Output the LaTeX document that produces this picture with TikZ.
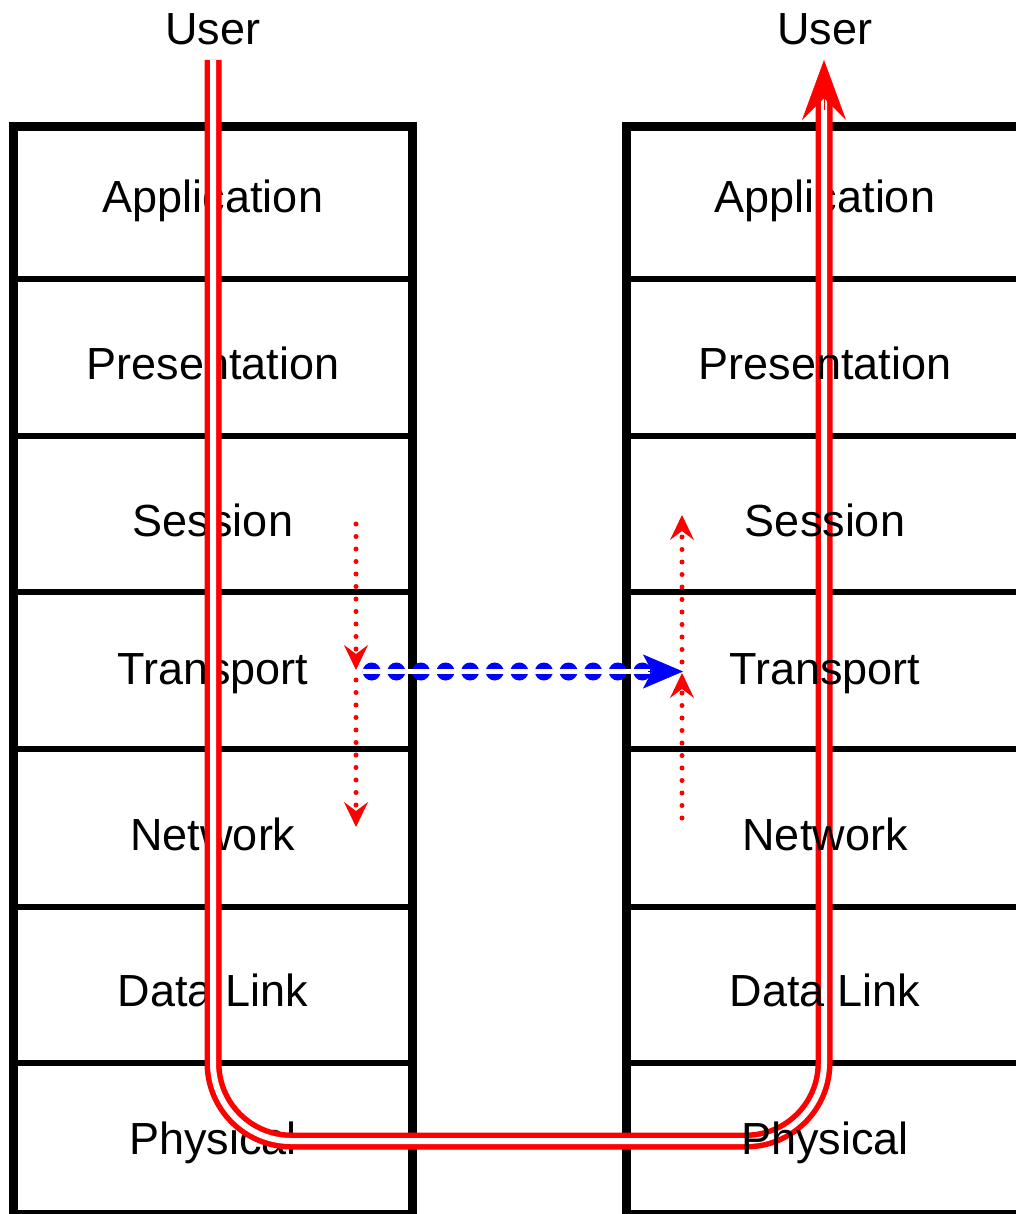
\documentclass[tikz,border=0pt]{standalone}
\usepackage{fontspec}
\setmainfont{Liberation Sans}
\usetikzlibrary{arrows.meta}
\definecolor{pathred}{RGB}{255,0,0}
\definecolor{pathblue}{RGB}{0,0,255}
\begin{document}
\begin{tikzpicture}[x=1pt,y=-1pt,
  layerlabel/.style={anchor=base, inner sep=0pt, font=\fontsize{45}{54}\selectfont},
  outerframe/.style={draw=black, line width=9pt},
  divider/.style={draw=black, line width=6.5pt},
  userpath/.style={draw=pathred, line width=5.5pt, double=white, double distance=6pt, rounded corners=78pt},
  usertip/.style={draw=pathred, fill=pathred, line width=1pt, -{Stealth[length=60pt,width=44pt,inset=22pt,line width=0.5pt]}},
  hopdots/.style={draw=pathred, line width=5pt, line cap=round, dash pattern=on 0pt off 12.5pt,
    -{Stealth[length=25pt,width=24pt,inset=9pt,line width=1pt]}},
  peerdots/.style={draw=pathblue, line width=18pt, line cap=round, dash pattern=on 0pt off 24.6pt},
  peerstripe/.style={draw=white, line width=5pt},
  peertip/.style={draw=pathblue, line width=1pt, -{Stealth[length=40pt,width=34pt,inset=9pt,line width=0.5pt]}}
]
\useasboundingbox (0,0) rectangle (1016,1214);

% sending stack
\draw[outerframe] (13,127) rectangle (412.5,1214.5);
\foreach \yy in {279,436,592,749,907,1063} \draw[divider] (13,\yy) -- (412.5,\yy);
\node[layerlabel] (userL) at (213,45) {User};
\node[layerlabel] (appL)  at (213,213)  {Application};
\node[layerlabel] (presL) at (213,379)  {Presentation};
\node[layerlabel] (sessL) at (213,536)  {Session};
\node[layerlabel] (tranL) at (213,684)  {Transport};
\node[layerlabel] (netL)  at (213,850)  {Network};
\node[layerlabel] (linkL) at (213,1006) {Data Link};
\node[layerlabel] (physL) at (213,1154) {Physical};

% receiving stack
\draw[outerframe] (626,127) rectangle (1026,1214.5);
\foreach \yy in {279,436,592,749,907,1063} \draw[divider] (626,\yy) -- (1026,\yy);
\node[layerlabel] (userR) at (825,45) {User};
\node[layerlabel] (appR)  at (825,213) {Application};

% data path from user to user through the physical medium
\coordinate (srcTop)  at (213,60);
\coordinate (srcLow)  at (213,1141);
\coordinate (dstLow)  at (824,1141);
\coordinate (dstBase) at (824,100);
\coordinate (dstTipFrom) at (824,110);
\coordinate (dstTop)  at (824,60);
\draw[userpath] (srcTop) -- (srcLow) -- (dstLow) -- (dstBase);
\draw[usertip] (dstTipFrom) -- (dstTop);

\node[layerlabel] (presR) at (825,379)  {Presentation};
\node[layerlabel] (sessR) at (825,536)  {Session};
\node[layerlabel] (tranR) at (825,684)  {Transport};
\node[layerlabel] (netR)  at (825,850)  {Network};
\node[layerlabel] (linkR) at (825,1006) {Data Link};
\node[layerlabel] (physR) at (825,1154) {Physical};

% peer-to-peer transport communication
\coordinate (peerA) at (371.7,671.5);
\coordinate (peerB) at (650,671.5);
\coordinate (peerStripeA) at (363,671.5);
\coordinate (peerTipFrom) at (648,671.5);
\coordinate (peerTip) at (683,671.5);
\draw[peerdots] (peerA) -- (peerB);
\draw[peerstripe] (peerStripeA) -- (peerB);
\draw[peertip] (peerTipFrom) -- (peerTip);

% layer hand-offs inside each stack
\coordinate (downA) at (356,524);
\coordinate (downB) at (356,670);
\coordinate (downC) at (356,680);
\coordinate (downD) at (356,827);
\draw[hopdots] (downA) -- (downB);
\draw[hopdots] (downC) -- (downD);
\coordinate (upA) at (682,818);
\coordinate (upB) at (682,673);
\coordinate (upC) at (682,662);
\coordinate (upD) at (682,515);
\draw[hopdots] (upA) -- (upB);
\draw[hopdots] (upC) -- (upD);
\end{tikzpicture}
\end{document}
